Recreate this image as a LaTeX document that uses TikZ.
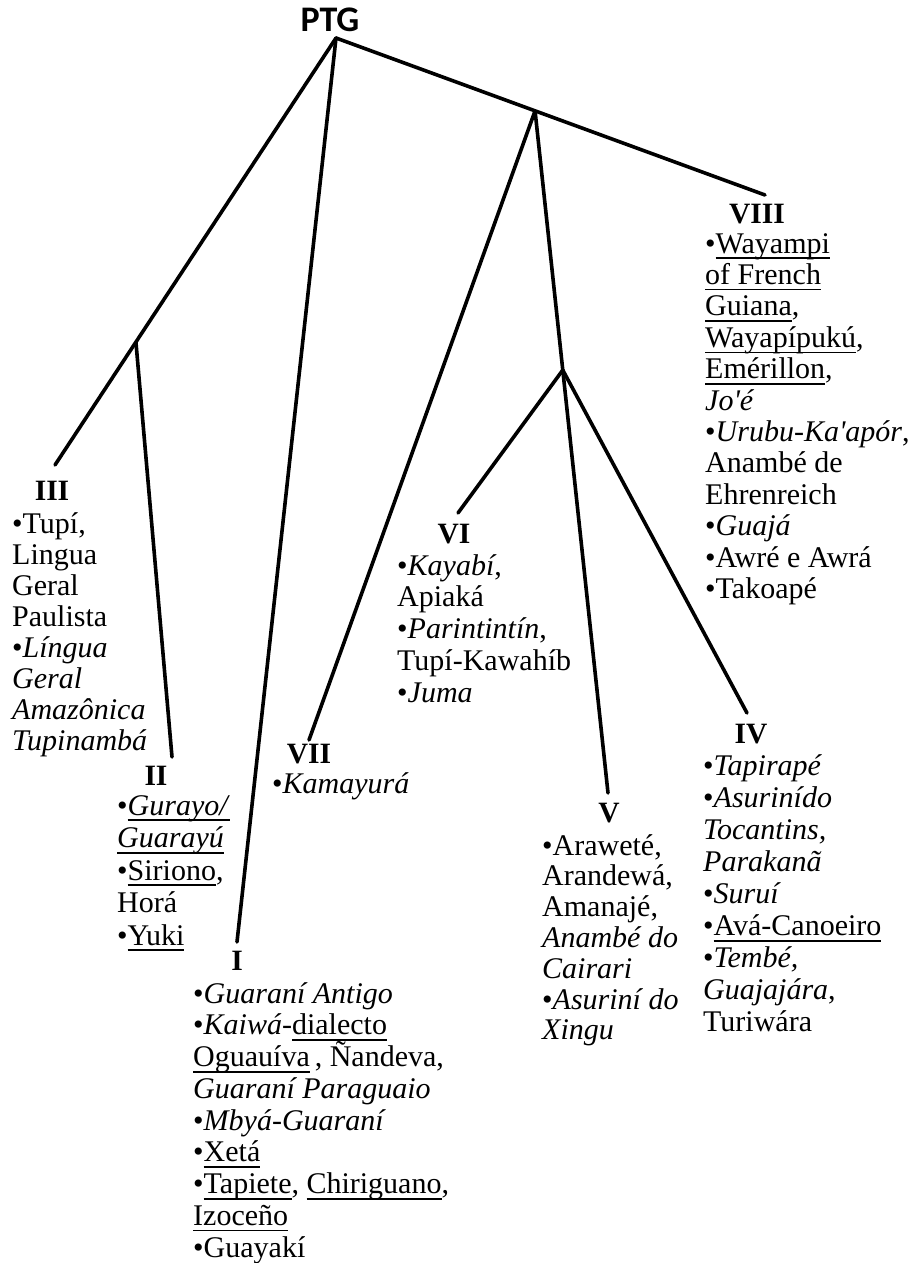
\documentclass[tikz,border=0pt]{standalone}
\usepackage{fontspec}
\usetikzlibrary{calc}
\setmainfont{Liberation Serif}
\newfontfamily\ptgfont{Carlito}
\newcommand\undl[1]{\setbox0=\hbox{#1}\rlap{\rule[-6pt]{\wd0}{1.6pt}}\box0}
\newcommand\nl{\egroup\hbox\bgroup}
\newcommand\lns[2]{\vtop{\baselineskip=#1pt\lineskiplimit=-100pt\lineskip=0pt\hbox\bgroup#2\egroup}}
\newcommand\q{\textquotesingle}
\tikzset{
  branch/.style={line width=3.6pt, line cap=round},
  grp/.style={inner sep=0pt, font=\fontsize{29.5}{30}\selectfont\bfseries},
  langs/.style={inner sep=0pt, anchor=base west, font=\fontsize{30}{31.5}\selectfont},
}
\begin{document}
\begin{tikzpicture}[x=1pt,y=-1pt]
\useasboundingbox (0,0) rectangle (923,1263);
% root label
\node[inner sep=0pt, anchor=base, font=\fontsize{36}{40}\ptgfont\bfseries] (ptg) at (330,32) {PTG};
% tree points
\coordinate (root) at (336,38);
\coordinate (eIII) at (55,465);
\coordinate (eII) at (172,757);
\coordinate (eI) at (237,942);
\coordinate (eVIII) at (765,195);
\coordinate (eVII) at (309,740);
\coordinate (eV) at (608,793);
\coordinate (eVI) at (458,513);
\coordinate (eIV) at (747,713);
\coordinate (a) at ($(root)!0.712!(eIII)$);
\coordinate (b) at ($(root)!0.464!(eVIII)$);
\coordinate (c) at ($(b)!0.38!(eV)$);
% connectors
\draw[branch] (root) -- (eIII);
\draw[branch] (a) -- (eII);
\draw[branch] (root) -- (eI);
\draw[branch] (root) -- (eVIII);
\draw[branch] (b) -- (eVII);
\draw[branch] (b) -- (eV);
\draw[branch] (c) -- (eVI);
\draw[branch] (c) -- (eIV);
% group labels
\node[grp, anchor=base] (lIII) at (52,500) {III};
\node[grp, anchor=base] (lII) at (156,785) {II};
\node[grp, anchor=base] (lI) at (237,970) {I};
\node[grp, anchor=base] (lVII) at (309,763) {VII};
\node[grp, anchor=base] (lVI) at (454,543) {VI};
\node[grp, anchor=base] (lV) at (609,822) {V};
\node[grp, anchor=base] (lIV) at (751,743) {IV};
\node[grp, anchor=base] (lVIII) at (757,223) {VIII};
% language lists
\node[langs] (tIII) at (12,533) {\lns{31.1}{•Tupí,\nl Lingua\nl Geral\nl Paulista\nl •\textit{Língua}\nl \textit{Geral}\nl \textit{Amazônica}\nl \textit{Tupinambá}}};
\node[langs] (tII) at (117,815) {\lns{32.5}{•\undl{\textit{Gurayo/}}\nl \undl{\textit{Guarayú}}\nl •\undl{Siriono},\nl Horá\nl •\undl{Yuki}}};
\node[langs] (tI) at (193,1003) {\lns{31.75}{•\textit{Guaraní Antigo}\nl •\textit{Kaiwá}-\undl{dialecto}\nl \undl{Oguauíva}\,, Ñandeva,\nl \textit{Guaraní Paraguaio}\nl •\textit{Mbyá-Guaraní}\nl •\undl{Xetá}\nl •\undl{Tapiete}, \undl{Chiriguano},\nl \undl{Izoceño}\nl •Guayakí}};
\node[langs] (tVII) at (272,793) {•\textit{Kamayurá}};
\node[langs] (tVI) at (397,575) {\lns{31.75}{•\textit{Kayabí}, \nl Apiaká\nl •\textit{Parintintín},\nl Tupí-Kawahíb\nl •\textit{Juma}}};
\node[langs] (tV) at (542,855) {\lns{30.8}{•Araweté,\nl Arandewá,\nl Amanajé,\nl \textit{Anambé do}\nl \textit{Cairari}\nl •\textit{Asuriní do}\nl \textit{Xingu}}};
\node[langs] (tIV) at (703,775) {\lns{32.1}{•\textit{Tapirapé}\nl •\textit{Asurinído}\nl \textit{Tocantins,}\nl \textit{Parakanã}\nl •\textit{Suruí}\nl •\undl{Avá-Canoeiro}\nl •\textit{Tembé,}\nl \textit{Guajajára},\nl Turiwára}};
\node[langs] (tVIII) at (705,253) {\lns{31.4}{•\undl{Wayampi}\nl \undl{of French}\nl \undl{Guiana},\nl \undl{Wayapípukú},\nl \undl{Emérillon},\nl \textit{Jo\q é}\nl •\textit{Urubu-Ka\q apór},\nl Anambé de\nl Ehrenreich\nl •\textit{Guajá}\nl •Awré e Awrá\nl •Takoapé}};
\end{tikzpicture}
\end{document}
